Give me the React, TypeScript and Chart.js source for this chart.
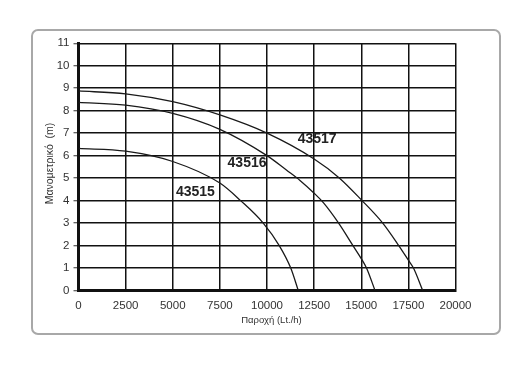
import React, { useEffect, useRef } from "react";
import { Chart, registerables } from "chart.js";

Chart.register(...registerables);

const seriesNames = ["43515", "43516", "43517"];
const flow43515 = [0, 2500, 5000, 7500, 8600, 9800, 10650, 11260, 11660];
const head43515 = [6.32, 6.2, 5.74, 4.78, 4.0, 3.0, 2.0, 1.0, 0];
const flow43516 = [0, 2500, 5000, 7500, 10000, 11045, 11750, 12500, 13000, 13800, 14560, 15000, 15290, 15730];
const head43516 = [8.37, 8.25, 7.88, 7.17, 6.0, 5.35, 4.9, 4.33, 3.9, 3.0, 2.0, 1.42, 0.98, 0];
const flow43517 = [0, 2500, 5000, 7500, 10000, 12500, 13850, 15020, 16140, 16990, 17500, 17770, 18260];
const head43517 = [8.88, 8.75, 8.4, 7.81, 7.0, 5.85, 5.0, 4.02, 3.0, 2.0, 1.35, 1.0, 0];
// label anchors (flow, head) for the curve names
const labelFlow = [6200, 8940, 12660];
const labelHead = [4.38, 5.66, 6.72];
const xTitle = "Παροχή (Lt./h)";
const yTitle = "Μανομετρικό  (m)";
const xMax = 20000;
const xStep = 2500;
const yMax = 11;
const yStep = 1;

const toPoints = (xs: number[], ys: number[]) => xs.map((x, i) => ({ x, y: ys[i] }));

export default function App() {
  const ref = useRef<HTMLCanvasElement | null>(null);
  useEffect(() => {
    if (!ref.current) return;
    const flows = [flow43515, flow43516, flow43517];
    const heads = [head43515, head43516, head43517];
    const textPlugin = {
      id: "textPlugin",
      afterDraw(chart: any) {
        const ctx = chart.ctx;
        const xs = chart.scales.x;
        const ys = chart.scales.y;
        ctx.save();
        ctx.fillStyle = "#222";
        ctx.font = "bold 14px 'Liberation Sans', Arial, sans-serif";
        ctx.textAlign = "center";
        ctx.textBaseline = "middle";
        seriesNames.forEach((n, i) => {
          ctx.fillText(n, xs.getPixelForValue(labelFlow[i]), ys.getPixelForValue(labelHead[i]));
        });
        ctx.fillStyle = "#333";
        ctx.font = "9.5px 'Liberation Sans', Arial, sans-serif";
        ctx.fillText(xTitle, 271.5, 320.5);
        ctx.font = "10.5px 'Liberation Sans', Arial, sans-serif";
        ctx.translate(50, 163.5);
        ctx.rotate(-Math.PI / 2);
        ctx.fillText(yTitle, 0, 0);
        ctx.restore();
      },
    };
    const tickFont = { family: "'Liberation Sans', Arial, sans-serif", size: 11.5 };
    const chart = new Chart(ref.current, {
      type: "scatter",
      data: {
        datasets: seriesNames.map((n, i) => ({
          label: n,
          data: toPoints(flows[i], heads[i]),
          showLine: true,
          pointRadius: 0,
          borderColor: "#1a1a1a",
          borderWidth: 1.3,
          cubicInterpolationMode: "monotone" as const,
          fill: false,
        })),
      },
      options: {
        responsive: false,
        animation: false,
        events: [],
        layout: { padding: { left: 0, top: 43.3, right: 76.5, bottom: 0 } },
        plugins: { legend: { display: false }, tooltip: { enabled: false }, title: { display: false } },
        scales: {
          x: {
            type: "linear",
            min: 0,
            max: xMax,
            afterFit: (s: any) => {
              s.height = 80.5;
            },
            ticks: {
              stepSize: xStep,
              padding: 8,
              color: "#333",
              font: tickFont,
              maxRotation: 0,
              callback: (v: any) => String(v),
            },
            grid: { color: "#111", lineWidth: 1.5, drawTicks: false },
            border: { display: true, color: "#111", width: 3 },
          },
          y: {
            type: "linear",
            min: 0,
            max: yMax,
            afterFit: (s: any) => {
              s.width = 78.5;
            },
            ticks: {
              stepSize: yStep,
              padding: 4,
              color: "#333",
              font: tickFont,
              callback: (v: any) => String(v),
            },
            grid: { color: "#111", lineWidth: 1.5, drawTicks: true, tickLength: 5, tickColor: "#333", tickWidth: 1 },
            border: { display: true, color: "#111", width: 3 },
          },
        },
      },
      plugins: [textPlugin],
    });
    return () => chart.destroy();
  }, []);
  return (
    <div style={{ position: "absolute", left: 0, top: 0, width: 532, height: 371, background: "#fff" }}>
      <div
        style={{
          position: "absolute",
          left: 31,
          top: 29,
          width: 466,
          height: 302,
          border: "2px solid #a8a8a8",
          borderRadius: 7,
        }}
      />
      <canvas ref={ref} width={532} height={371} style={{ position: "absolute", left: 0, top: 0 }} />
    </div>
  );
}
